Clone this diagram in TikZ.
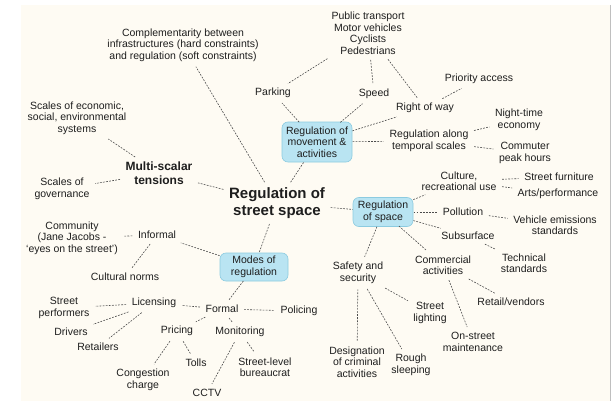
\documentclass[tikz,border=0pt]{standalone}
\usepackage{fontspec}
\setmainfont{Liberation Sans}
\definecolor{paper}{HTML}{FEFBF3}
\definecolor{boxfill}{HTML}{B9E4F2}
\definecolor{boxline}{HTML}{8CCBE0}
\definecolor{ink}{HTML}{1E1E1E}
\tikzset{
  leaf/.style={text=ink, align=center, inner sep=3pt, font=\fontsize{10.5}{11.5}\selectfont},
  topic/.style={leaf, draw=boxline, fill=boxfill, rounded corners=6pt, line width=0.6pt, inner sep=0pt, outer sep=-2pt},
  link/.style={draw=black!70, line width=0.6pt, dash pattern=on 1.8pt off 1.3pt, shorten >=2.5pt, shorten <=2.5pt},
}

\begin{document}
\begin{tikzpicture}[x=1pt,y=-1pt]
		%%%%% START %%%%%
		\useasboundingbox (0,0) rectangle (612,401);
		\fill[paper] (21,5) rectangle (610,401);
		\draw[black!25, line width=0.8pt] (610,5) -- (610,401);
		
		% centre and tensions
		\node[leaf, font=\bfseries\fontsize{15}{17}\selectfont] (cen) at (277,203) {Regulation of\\street space};
		\node[leaf, font=\bfseries\fontsize{12}{14}\selectfont] (multi) at (159,173) {Multi-scalar\\tensions};
		\node[leaf] (econ) at (77,118) {Scales of economic,\\social, environmental\\systems};
		\node[leaf] (gov) at (62,189) {Scales of\\governance};
		\node[leaf] (compl) at (183,45) {Complementarity between\\infrastructures (hard constraints)\\and regulation (soft constraints)};
		
		% movement
		\node[topic, minimum width=70pt, minimum height=40pt] (move) at (317,142) {Regulation of\\movement \&\\activities};
		\node[leaf] (park) at (273,93) {Parking};
		\node[leaf] (speed) at (374,94) {Speed};
		\node[leaf] (users) at (368,33) {Public transport\\Motor vehicles\\Cyclists\\Pedestrians};
		\node[leaf] (row) at (425,108) {Right of way};
		\node[leaf] (prio) at (479,79) {Priority access};
		\node[leaf] (temporal) at (429,141) {Regulation along\\temporal scales};
		\node[leaf] (night) at (519,120) {Night-time\\economy};
		\node[leaf] (commute) at (525,153) {Commuter\\peak hours};
		
		% space
		\node[topic, minimum width=60pt, minimum height=29pt] (space) at (383,212) {Regulation\\of space};
		\node[leaf] (culture) at (459,181) {Culture,\\recreational use};
		\node[leaf] (furn) at (559,177) {Street furniture};
		\node[leaf] (arts) at (558,194) {Arts/performance};
		\node[leaf] (poll) at (463,212) {Pollution};
		\node[leaf] (emis) at (555,225) {Vehicle emissions\\standards};
		\node[leaf] (subs) at (468,236) {Subsurface};
		\node[leaf] (tech) at (524,263) {Technical\\standards};
		\node[leaf] (comm) at (443,265) {Commercial\\activities};
		\node[leaf] (retail) at (511,302) {Retail/vendors};
		\node[leaf] (maint) at (473,342) {On-street\\maintenance};
		\node[leaf] (safety) at (358,273) {Safety and\\security};
		\node[leaf] (light) at (430,313) {Street\\lighting};
		\node[leaf] (crim) at (357,362) {Designation\\of criminal\\activities};
		\node[leaf] (rough) at (411,365) {Rough\\sleeping};
		
		% modes
		\node[topic, minimum width=68pt, minimum height=28pt] (modes) at (254,267) {Modes of\\regulation};
		\node[leaf] (informal) at (157,235) {Informal};
		\node[leaf] (community) at (72,238) {Community\\(Jane Jacobs -\\`eyes on the street')};
		\node[leaf] (norms) at (125,277) {Cultural norms};
		\node[leaf] (formal) at (222,309) {Formal};
		\node[leaf] (policing) at (299,311) {Policing};
		\node[leaf] (licensing) at (154,303) {Licensing};
		\node[leaf] (performers) at (64,308) {Street\\performers};
		\node[leaf] (drivers) at (71,332) {Drivers};
		\node[leaf] (retailers) at (98,347) {Retailers};
		\node[leaf] (pricing) at (177,331) {Pricing};
		\node[leaf] (monitoring) at (240,332) {Monitoring};
		\node[leaf] (congestion) at (143,380) {Congestion\\charge};
		\node[leaf] (tolls) at (196,363) {Tolls};
		\node[leaf] (cctv) at (207,393) {CCTV};
		\node[leaf] (bureau) at (265,367) {Street-level\\bureaucrat};
		
		% links
		\draw[link] (cen) -- (multi);
		\draw[link] (multi) -- (econ);
		\draw[link] (multi) -- (gov);
		\draw[link] (cen) -- (compl);
		
		\draw[link] (cen) -- (move);
		\draw[link] (move) -- (park);
		\draw[link] (move) -- (speed);
		\draw[link] (move) -- (row);
		\draw[link] (move) -- (temporal);
		\draw[link] (users) -- (park);
		\draw[link] (users) -- (speed);
		\draw[link] (users) -- (row);
		\draw[link] (row) -- (prio);
		\draw[link] (temporal) -- (night);
		\draw[link] (temporal) -- (commute);
		
		\draw[link] (cen) -- (space);
		\draw[link] (space) -- (culture);
		\draw[link] (culture) -- (furn);
		\draw[link] (culture) -- (arts);
		\draw[link] (space) -- (poll);
		\draw[link] (poll) -- (emis);
		\draw[link] (space) -- (subs);
		\draw[link] (subs) -- (tech);
		\draw[link] (space) -- (comm);
		\draw[link] (comm) -- (retail);
		\draw[link] (comm) -- (maint);
		\draw[link] (space) -- (safety);
		\draw[link] (safety) -- (light);
		\draw[link] (safety) -- (crim);
		\draw[link] (safety) -- (rough);
		
		\draw[link] (cen) -- (modes);
		\draw[link] (modes) -- (informal);
		\draw[link] (informal) -- (community);
		\draw[link] (informal) -- (norms);
		\draw[link] (modes) -- (formal);
		\draw[link] (formal) -- (policing);
		\draw[link] (formal) -- (licensing);
		\draw[link] (licensing) -- (performers);
		\draw[link] (licensing) -- (drivers);
		\draw[link] (licensing) -- (retailers);
		\draw[link] (formal) -- (pricing);
		\draw[link] (formal) -- (monitoring);
		\draw[link] (pricing) -- (congestion);
		\draw[link] (pricing) -- (tolls);
		\draw[link] (monitoring) -- (cctv);
		\draw[link] (monitoring) -- (bureau);
		%%%%% END %%%%%
	\end{tikzpicture}
\end{document}
